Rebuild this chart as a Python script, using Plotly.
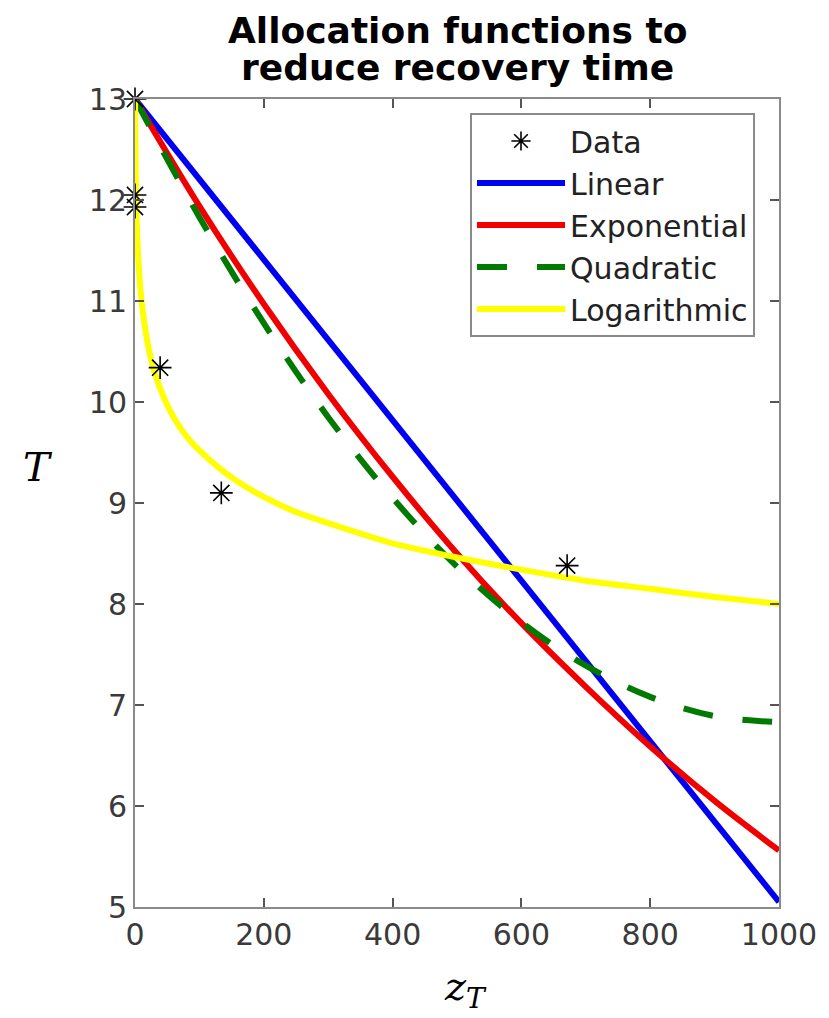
import plotly.graph_objects as go

# ---- data ----
data_x = [0, 0, 0, 39, 134, 671]
data_t = [13.0, 12.05, 11.93, 10.34, 9.10, 8.38]

lin_x = [0, 1000]
lin_t = [13.0, 5.05]

exp_x = [0, 100, 200, 300, 400, 500, 600, 700, 800, 900, 1000]
exp_t = [13.0, 11.94, 10.97, 10.08, 9.26, 8.50, 7.81, 7.18, 6.59, 6.05, 5.56]

quad_x = [0, 100, 200, 300, 400, 500, 600, 700, 800, 900, 1000]
quad_t = [13.0, 11.83, 10.78, 9.85, 9.05, 8.37, 7.82, 7.39, 7.08, 6.89, 6.83]

log_x = [0, 1, 2, 3, 5, 10, 20, 30, 45, 60, 80, 100, 130, 160, 200, 250, 300,
         400, 500, 600, 700, 800, 900, 1000]
log_t = [13.0, 12.29, 11.95, 11.73, 11.43, 11.01, 10.57, 10.30, 10.04, 9.85, 9.66,
         9.52, 9.35, 9.21, 9.06, 8.91, 8.80, 8.60, 8.46, 8.34, 8.23, 8.15, 8.07, 8.00]

x_ticks = [0, 200, 400, 600, 800, 1000]
y_ticks = [5, 6, 7, 8, 9, 10, 11, 12, 13]

title_lines = ["Allocation functions to", "reduce recovery time"]

# page geometry (the html body adds an 8px margin)
BODY = 8
X0, X1, Y0, Y1 = 135, 779, 99, 907   # plot area in window pixels


def paper_x(px):
    return (px - X0) / (X1 - X0)


def paper_y(py):
    return 1 - (py - Y0) / (Y1 - Y0)


fig = go.Figure()
fig.add_trace(go.Scatter(x=lin_x, y=lin_t, mode="lines", name="Linear",
                         line=dict(color="#0000f0", width=6), legendrank=2))
fig.add_trace(go.Scatter(x=exp_x, y=exp_t, mode="lines", name="Exponential",
                         line=dict(color="#f00000", width=6, shape="spline"), legendrank=3))
fig.add_trace(go.Scatter(x=quad_x, y=quad_t, mode="lines", name="Quadratic",
                         line=dict(color="#007a00", width=6, shape="spline", dash="30px,30px"),
                         legendrank=4))
fig.add_trace(go.Scatter(x=log_x, y=log_t, mode="lines", name="Logarithmic",
                         line=dict(color="#ffff00", width=6, shape="spline", smoothing=0.6),
                         legendrank=5))
fig.add_trace(go.Scatter(x=data_x, y=data_t, mode="markers", name="Data",
                         marker=dict(symbol="asterisk-open", size=19, color="black",
                                     line=dict(color="black", width=1.6)),
                         cliponaxis=False, legendrank=1))

axis_common = dict(showgrid=False, zeroline=False, showline=True, linecolor="#8a8a8a",
                   linewidth=2, mirror="allticks", ticks="inside", ticklen=9,
                   tickwidth=1.5, tickcolor="#555555",
                   tickfont=dict(family="DejaVu Sans", size=30, color="#3a3a3a"))

fig.update_xaxes(range=[0, 1000], tickvals=x_ticks, **axis_common)
fig.update_yaxes(range=[5, 13], tickvals=y_ticks, **axis_common)

annotations = []
for i, line in enumerate(title_lines):
    annotations.append(dict(text="<b>" + line + "</b>", x=paper_x(457), y=paper_y(53 + 37 * i),
                            xref="paper", yref="paper", xanchor="center", yanchor="bottom",
                            showarrow=False,
                            font=dict(family="DejaVu Sans", size=36, color="black")))
annotations.append(dict(text="<i>T</i>", x=paper_x(38), y=paper_y(467),
                        xref="paper", yref="paper", xanchor="center", yanchor="middle",
                        showarrow=False,
                        font=dict(family="DejaVu Serif", size=40, color="black")))
annotations.append(dict(text="<i>z</i><sub><i>T</i></sub>", x=paper_x(465), y=paper_y(989),
                        xref="paper", yref="paper", xanchor="center", yanchor="middle",
                        showarrow=False,
                        font=dict(family="DejaVu Serif", size=40, color="black")))

fig.update_layout(
    width=829 - BODY, height=1018 - BODY,
    margin=dict(l=X0 - BODY, r=829 - X1, t=Y0 - BODY, b=1018 - Y1),
    paper_bgcolor="white", plot_bgcolor="white",
    showlegend=True,
    legend=dict(x=paper_x(755), xanchor="right", y=paper_y(113), yanchor="top",
                bordercolor="#8a8a8a", borderwidth=2, bgcolor="white",
                itemwidth=88, tracegroupgap=0,
                font=dict(family="DejaVu Sans", size=30, color="#222222")),
    annotations=annotations,
)

fig.write_html("out.html")
